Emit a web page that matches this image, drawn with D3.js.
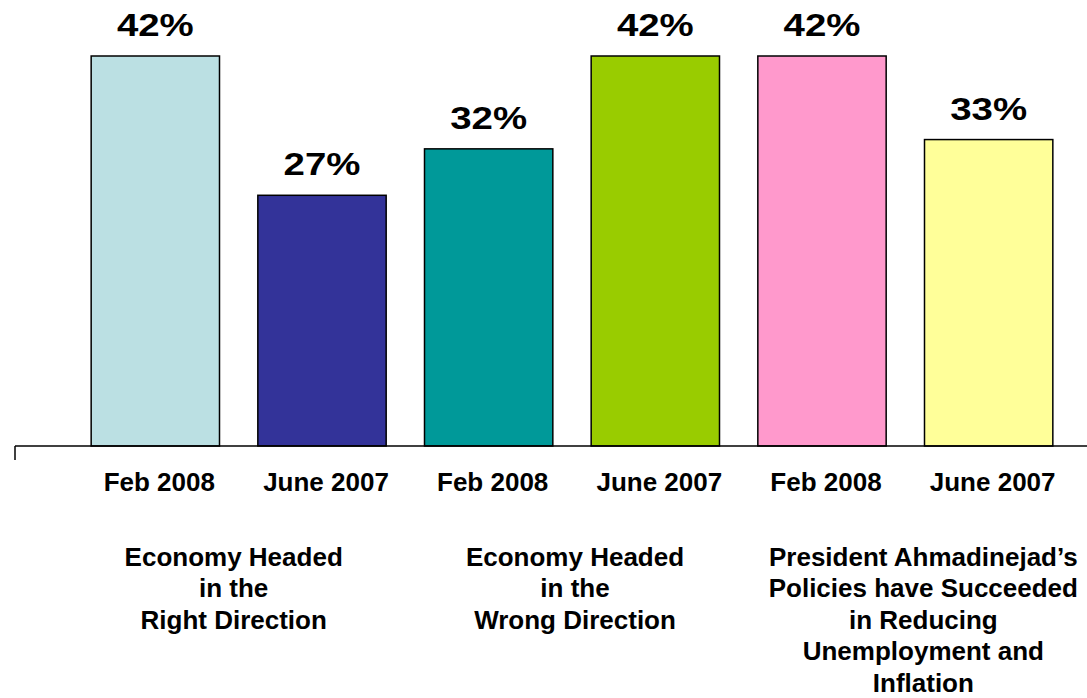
<!DOCTYPE html>
<html>
<head>
<meta charset="utf-8">
<script src="https://cdn.jsdelivr.net/npm/d3@7"></script>
<style>
  body { margin: 0; background: #fff; }
  text { font-family: "Liberation Sans", Arial, sans-serif; font-weight: bold; fill: #000; }
</style>
</head>
<body>
<svg id="chart"></svg>
<script>
// data
var periods = ["Feb 2008", "June 2007", "Feb 2008", "June 2007", "Feb 2008", "June 2007"];
var values  = [42, 27, 32, 42, 42, 33];
var barColors = ["#BBE0E3", "#333399", "#009999", "#99CC00", "#FF99CC", "#FFFF99"];
var groupLabels = [
  ["Economy Headed", "in the", "Right Direction"],
  ["Economy Headed", "in the", "Wrong Direction"],
  ["President Ahmadinejad\u2019s", "Policies have Succeeded", "in Reducing", "Unemployment and", "Inflation"]
];

var width = 1087, height = 698;
var baseY = 446;
var groupNudge = [-5, 3, 18];

var svg = d3.select("#chart").attr("width", width).attr("height", height);

var ids = periods.map(function(d, i) { return i; });

var x = d3.scaleBand()
          .domain(ids)
          .range([72, 1072])
          .paddingInner(0.23)
          .paddingOuter(0.115);

var y = d3.scaleLinear()
          .domain([0, 42])
          .range([baseY, 56]);

// bars
svg.append("g").selectAll("rect")
   .data(values)
   .join("rect")
   .attr("x", function(d, i) { return x(i); })
   .attr("y", function(d) { return y(d); })
   .attr("width", x.bandwidth())
   .attr("height", function(d) { return y(0) - y(d); })
   .style("fill", function(d, i) { return barColors[i]; })
   .style("stroke", "#000")
   .style("stroke-width", 1.5);

// value labels (slightly stretched, like the original)
svg.append("g").selectAll("text")
   .data(values)
   .join("text")
   .attr("x", function(d, i) { return x(i) + x.bandwidth() / 2; })
   .attr("y", function(d) { return y(d) - 20; })
   .attr("text-anchor", "middle")
   .attr("font-size", "32px")
   .text(function(d) { return d + "%"; })
   .each(function() {
     var len = this.getComputedTextLength();
     d3.select(this).attr("textLength", len * 1.2).attr("lengthAdjust", "spacingAndGlyphs");
   });

// axis line with the single left tick
var axis = d3.axisBottom(x).tickSize(0).tickFormat("");
var gx = svg.append("g").attr("transform", "translate(0," + baseY + ")").call(axis);
gx.select(".domain").remove();
gx.append("line")
  .attr("x1", 15).attr("x2", width).attr("y1", 0).attr("y2", 0)
  .style("stroke", "#000").style("stroke-width", 1.5);
gx.append("line")
  .attr("x1", 15).attr("x2", 15).attr("y1", 0).attr("y2", 14)
  .style("stroke", "#000").style("stroke-width", 1.5);

// period labels
svg.append("g").selectAll("text")
   .data(periods)
   .join("text")
   .attr("x", function(d, i) { return x(i) + x.bandwidth() / 2 + 4; })
   .attr("y", 491)
   .attr("text-anchor", "middle")
   .attr("font-size", "26px")
   .text(function(d) { return d; });

// group labels under each pair
var groups = svg.append("g").selectAll("text")
   .data(groupLabels)
   .join("text")
   .attr("text-anchor", "middle")
   .attr("font-size", "26px")
   .attr("transform", function(d, g) {
     var cx = (x(g * 2) + x(g * 2 + 1) + x.bandwidth()) / 2 + groupNudge[g];
     return "translate(" + cx + ",566)";
   });

groups.selectAll("tspan")
   .data(function(d) { return d; })
   .join("tspan")
   .attr("x", 0)
   .attr("y", function(d, i) { return i * 31.4; })
   .text(function(d) { return d; });
</script>
</body>
</html>
